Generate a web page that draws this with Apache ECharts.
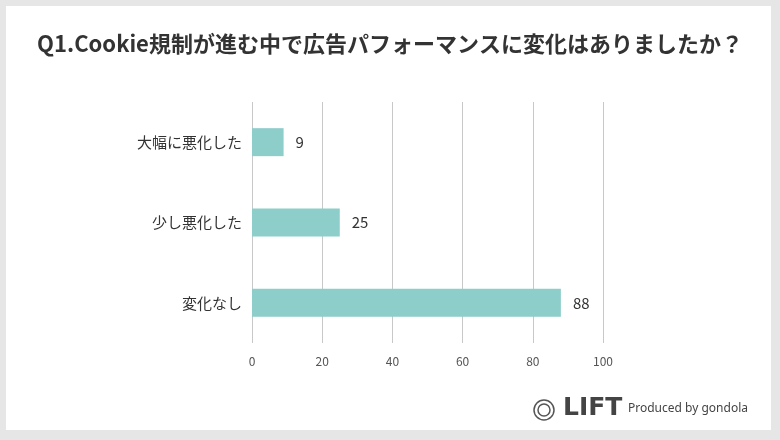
<!DOCTYPE html>
<html lang="ja">
<head>
<meta charset="UTF-8">
<script src="https://cdn.jsdelivr.net/npm/echarts@6.0.0/dist/echarts.min.js"></script>
<style>
  html, body { margin: 0; padding: 0; background: #e6e6e6; }
  #main { width: 780px; height: 440px; }
</style>
</head>
<body>
<div id="main"></div>
<script>
// 回答データ
var titleText = 'Q1.Cookie規制が進む中で広告パフォーマンスに変化はありましたか？';
var categories = ['大幅に悪化した', '少し悪化した', '変化なし'];
var counts = [9, 25, 88];

var chart = echarts.init(document.getElementById('main'));
var font = '"Noto Sans CJK JP", "Noto Sans", sans-serif';

chart.setOption({
  backgroundColor: '#e6e6e6',
  textStyle: { fontFamily: font },
  title: {
    text: titleText,
    left: 'center',
    top: 28,
    textStyle: { fontSize: 22, fontWeight: 'bold', color: '#333', fontFamily: font }
  },
  graphic: [
    { type: 'rect', z: -10, shape: { x: 6, y: 6, width: 765, height: 424 }, style: { fill: '#fff' } },
    { type: 'circle', shape: { cx: 544, cy: 410, r: 10 }, style: { fill: 'none', stroke: '#555', lineWidth: 1.5 } },
    { type: 'circle', shape: { cx: 544, cy: 410, r: 6 }, style: { fill: 'none', stroke: '#555', lineWidth: 1.5 } },
    { type: 'text', left: 563, top: 396, style: { text: 'LIFT', font: 'bold 25px "DejaVu Sans", sans-serif', fill: '#444' } },
    { type: 'text', left: 628, top: 403, style: { text: 'Produced by gondola', font: '12px "Noto Sans", sans-serif', fill: '#444' } }
  ],
  grid: { left: 252, right: 177, top: 102, bottom: 97 },
  xAxis: {
    type: 'value',
    min: 0, max: 100, interval: 20,
    axisLine: { show: false },
    axisTick: { show: false },
    axisLabel: { color: '#555', fontSize: 12, margin: 12 },
    splitLine: { lineStyle: { color: '#c8c8c8', width: 1 } }
  },
  yAxis: {
    type: 'category',
    data: categories,
    inverse: true,
    axisLine: { show: false },
    axisTick: { show: false },
    axisLabel: { color: '#333', fontSize: 15, margin: 10 }
  },
  series: [{
    type: 'bar',
    data: counts,
    barWidth: 28,
    itemStyle: { color: '#8dcdca' },
    label: { show: true, position: 'right', distance: 12, color: '#333', fontSize: 15 }
  }]
});
</script>
</body>
</html>
